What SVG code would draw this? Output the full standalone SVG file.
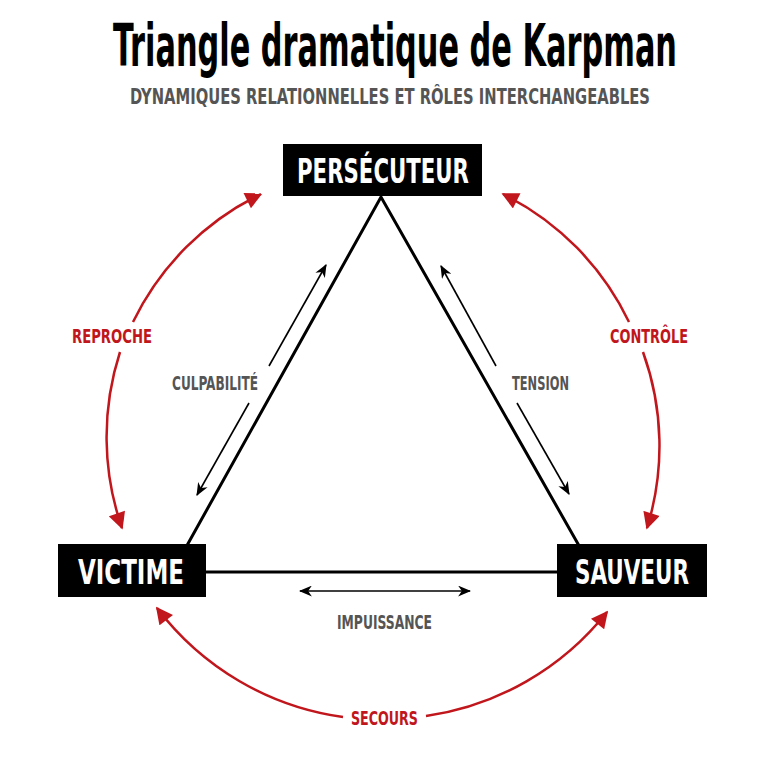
<svg xmlns="http://www.w3.org/2000/svg" width="768" height="768" viewBox="0 0 768 768">
<style>
.t{font-family:'Liberation Sans Narrow','DejaVu Sans Condensed','Liberation Sans',sans-serif;font-weight:bold;text-anchor:middle}
.box{fill:#000}
.nt{fill:#fff;font-size:34px}
.lbl{fill:#555;font-size:19px}
.red{fill:#c0161c;font-size:19px}
.side{fill:none;stroke:#000;stroke-width:3;stroke-linejoin:miter}
.thin{fill:none;stroke:#000;stroke-width:1.6}
.arc{fill:none;stroke:#c0161c;stroke-width:2.5}
</style>
<defs>
<marker id="ah" viewBox="0 0 12 10" refX="11" refY="5" markerWidth="13" markerHeight="11" markerUnits="userSpaceOnUse" orient="auto-start-reverse">
<path d="M0,0 L12,5 L0,10 L3.5,5 z" fill="#000"/>
</marker>
<marker id="rh" viewBox="0 0 10 10" refX="9" refY="5" markerWidth="18" markerHeight="17" markerUnits="userSpaceOnUse" orient="auto">
<path d="M0,0 L10,5 L0,10 z" fill="#c0161c"/>
</marker>
</defs>
<rect width="768" height="768" fill="#fff"/>
<text class="t" x="395" y="66" font-size="58" textLength="564" lengthAdjust="spacingAndGlyphs" fill="#000">Triangle dramatique de Karpman</text>
<text class="t" x="390" y="104" font-size="21" textLength="520" lengthAdjust="spacingAndGlyphs" fill="#555">DYNAMIQUES RELATIONNELLES ET RÔLES INTERCHANGEABLES</text>
<g id="connectors">
<polyline class="side" points="180,558 381,197 586,558"/>
<line class="side" x1="200" y1="572" x2="565" y2="572"/>
<line class="thin" x1="269" y1="366" x2="326" y2="265" marker-end="url(#ah)"/>
<line class="thin" x1="249" y1="403" x2="197" y2="495" marker-end="url(#ah)"/>
<line class="thin" x1="496" y1="366" x2="441" y2="266" marker-end="url(#ah)"/>
<line class="thin" x1="517" y1="403" x2="569" y2="494" marker-end="url(#ah)"/>
<line class="thin" x1="300" y1="591" x2="470" y2="591" marker-start="url(#ah)" marker-end="url(#ah)"/>
<path class="arc" d="M133,322 A276,276 0 0 1 261,194" marker-end="url(#rh)"/>
<path class="arc" d="M120,352 A276,276 0 0 0 122,528" marker-end="url(#rh)"/>
<path class="arc" d="M629,322 A276,276 0 0 0 503,194" marker-end="url(#rh)"/>
<path class="arc" d="M643,352 A276,276 0 0 1 647,528" marker-end="url(#rh)"/>
<path class="arc" d="M343,717 A282,282 0 0 1 157,608" marker-end="url(#rh)"/>
<path class="arc" d="M426,716 A282,282 0 0 0 607,612" marker-end="url(#rh)"/>
<text class="t lbl" x="215" y="390" textLength="86" lengthAdjust="spacingAndGlyphs">CULPABILITÉ</text>
<text class="t lbl" x="540.5" y="390" textLength="57" lengthAdjust="spacingAndGlyphs">TENSION</text>
<text class="t lbl" x="384.5" y="629" textLength="95" lengthAdjust="spacingAndGlyphs">IMPUISSANCE</text>
<text class="t red" x="112" y="343" textLength="80" lengthAdjust="spacingAndGlyphs">REPROCHE</text>
<text class="t red" x="649" y="343" textLength="78" lengthAdjust="spacingAndGlyphs">CONTRÔLE</text>
<text class="t red" x="384.5" y="725" textLength="67" lengthAdjust="spacingAndGlyphs">SECOURS</text>
</g>
<g id="persecuteur">
<rect class="box" x="283" y="144" width="199" height="52"/>
<text class="t nt" x="383" y="183" textLength="172" lengthAdjust="spacingAndGlyphs">PERSÉCUTEUR</text>
</g>
<g id="victime">
<rect class="box" x="58" y="544" width="148" height="53"/>
<text class="t nt" x="131" y="584" textLength="106" lengthAdjust="spacingAndGlyphs">VICTIME</text>
</g>
<g id="sauveur">
<rect class="box" x="557" y="544" width="150" height="53"/>
<text class="t nt" x="632" y="584" textLength="114" lengthAdjust="spacingAndGlyphs">SAUVEUR</text>
</g>
</svg>
